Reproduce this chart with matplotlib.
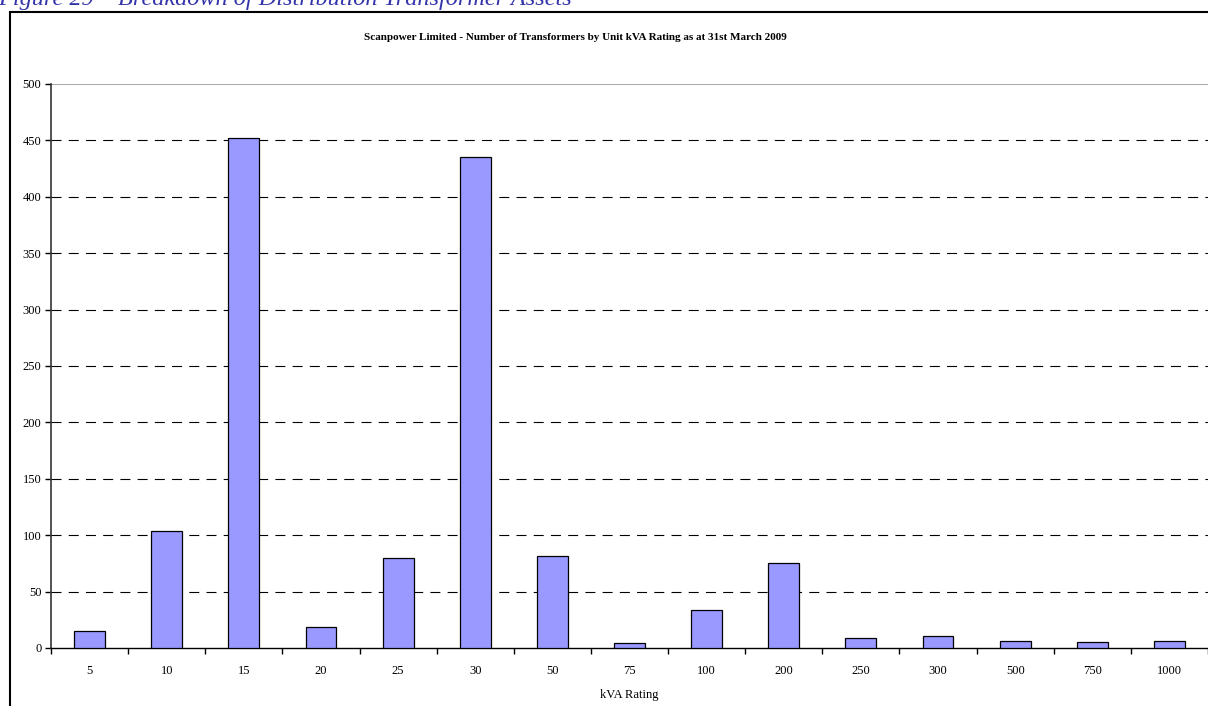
import matplotlib.pyplot as plt
import matplotlib.patches as mpatches
import numpy as np

# kVA ratings and number of transformers
ratings = ['5', '10', '15', '20', '25', '30', '50', '75', '100', '200',
           '250', '300', '500', '750', '1000']
counts = [15, 104, 452, 19, 80, 435, 82, 4, 34, 75, 9, 11, 6, 5, 6]
yticks = [0, 50, 100, 150, 200, 250, 300, 350, 400, 450, 500]

plt.rcParams['font.family'] = ['Liberation Serif', 'DejaVu Serif']

fig = plt.figure(figsize=(12.08, 7.06), dpi=100)
ax = fig.add_axes([51 / 1208, 1 - 648 / 706, 1 - 51 / 1208, (648 - 84) / 706])

x = np.arange(len(ratings))
ax.bar(x, counts, width=0.4, color='#9999FF', edgecolor='black', linewidth=0.9, zorder=3)

ax.set_xlim(-0.5, len(ratings) - 0.5)
ax.set_ylim(0, 500)
ax.set_yticks(yticks)
ax.set_yticklabels([str(v) for v in yticks], fontsize=9)
ax.set_xticks(x)
ax.set_xticklabels(ratings, fontsize=9)
# tick marks sit between categories
ax.set_xticks(np.arange(len(ratings) + 1) - 0.5, minor=True)
ax.tick_params(axis='x', which='major', length=0, pad=12)
ax.tick_params(axis='x', which='minor', length=4, width=1, direction='out')
ax.tick_params(axis='y', length=4, width=1, direction='out', pad=3)

for v in yticks[1:-1]:
    ax.axhline(v, color='black', linestyle=(0, (9, 6.5)), linewidth=0.8, zorder=1)
ax.axhline(500, color='#999999', linewidth=1.2, zorder=1)

for s in ['top', 'right']:
    ax.spines[s].set_visible(False)
ax.spines['left'].set_color('#333333')
ax.spines['left'].set_linewidth(1.2)
ax.spines['bottom'].set_linewidth(1.0)

ax.set_xlabel('kVA Rating', fontsize=9, labelpad=9)
fig.text(575 / 1208, 1 - 38 / 706, 'Scanpower Limited - Number of Transformers by Unit kVA Rating as at 31st March 2009',
         ha='center', va='center', fontsize=8, fontweight='bold')

# chart frame and partly cut caption above it
fig.patches.append(mpatches.Rectangle((10 / 1208, -0.1), 1.1, 1.1 - 12 / 706, transform=fig.transFigure,
                                      fill=False, edgecolor='black', linewidth=1.5))
fig.text(-2 / 1208, 1 - 5 / 706, 'Figure 29 \u2013 Breakdown of Distribution Transformer Assets',
         ha='left', va='baseline', fontsize=17.5, style='italic', color='#3333AA')

fig.savefig('out.png', dpi=100)
